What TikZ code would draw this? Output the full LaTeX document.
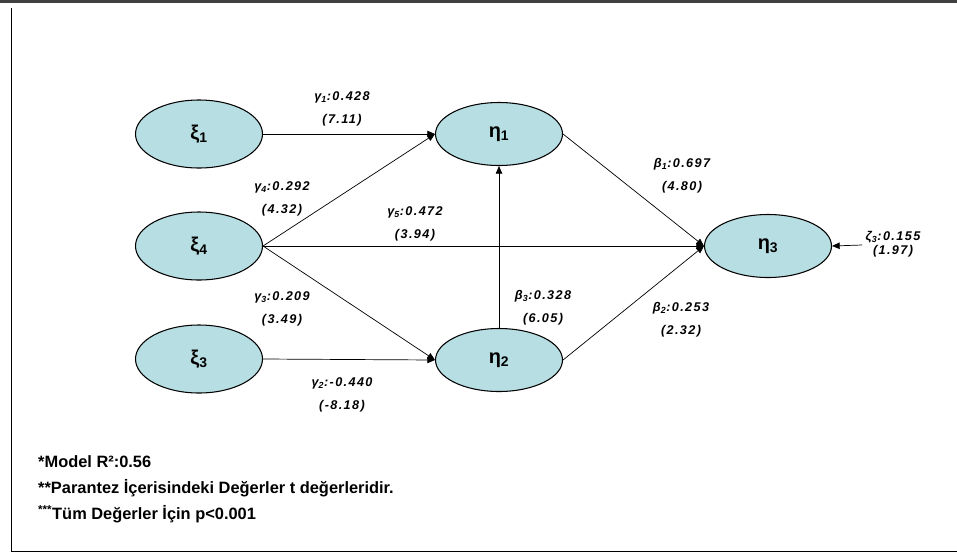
\documentclass[tikz,border=0pt]{standalone}
\usepackage{fontspec}
\setmainfont{Liberation Sans}
\usetikzlibrary{shapes.geometric,arrows.meta}
\definecolor{latentfill}{RGB}{183,222,226}

\begin{document}
\begin{tikzpicture}[x=0.03cm,y=-0.03cm,
    latent/.style={ellipse,draw,line width=0.9pt,fill=latentfill,minimum width=3.81cm,
        minimum height=2.04cm,inner sep=0pt,font=\bfseries\fontsize{17}{19}\selectfont},
    endo/.style={latent,minimum height=1.89cm},
    link/.style={-{Triangle[length=6.5pt,width=5.5pt]},line width=0.6pt},
    coef/.style={align=center,inner sep=0pt,
        font=\bfseries\itshape\fontsize{10.8}{19.5}\selectfont\addfontfeature{LetterSpace=11}},
    note/.style={anchor=west,inner sep=0pt,font=\bfseries\fontsize{14}{15}\selectfont}]
    \useasboundingbox (0,0) rectangle (957,553);
    % frame
    \draw[line width=2.2pt,black!75] (0,1.5) -- (957,1.5);
    \draw[line width=1.5pt] (11.5,8) -- (11.5,552);
    \draw[line width=1.5pt] (11,551.5) -- (957,551.5);

    \node[latent] (xi1) at (199,134) {ξ\textsubscript{1}};
    \node[latent] (xi4) at (199,246) {ξ\textsubscript{4}};
    \node[latent] (xi3) at (199,359) {ξ\textsubscript{3}};
    \node[endo] (eta1) at (499,134) {η\textsubscript{1}};
    \node[endo] (eta2) at (499,360) {η\textsubscript{2}};
    \node[endo] (eta3) at (768,246) {η\textsubscript{3}};
    \coordinate (zeta) at (862,245);

    \draw[link] (xi1.east) -- (eta1.west);
    \draw[link] (xi4.east) -- (eta1.west);
    \draw[link] (xi4.east) -- (eta3.west);
    \draw[link] (xi4.east) -- (eta2.west);
    \draw[link] (xi3.east) -- (eta2.west);
    \draw[link] (eta2.north) -- (eta1.south);
    \draw[link] (eta1.east) -- (eta3.west);
    \draw[link] (eta2.east) -- (eta3.west);
    \draw[link] (zeta) -- (eta3.east);

    % path coefficients (t values)
    \node[coef] (g1) at (342,108.5) {γ\textsubscript{1}:0.428\\(7.11)};
    \node[coef] (g4) at (282,199) {γ\textsubscript{4}:0.292\\(4.32)};
    \node[coef] (g5) at (415,223.5) {γ\textsubscript{5}:0.472\\(3.94)};
    \node[coef] (g3) at (282,308.5) {γ\textsubscript{3}:0.209\\(3.49)};
    \node[coef] (g2) at (342,395) {γ\textsubscript{2}:-0.440\\(-8.18)};
    \node[coef] (b3) at (543,307.5) {β\textsubscript{3}:0.328\\(6.05)};
    \node[coef] (b2) at (681,320) {β\textsubscript{2}:0.253\\(2.32)};
    \node[coef] (b1) at (682,176) {β\textsubscript{1}:0.697\\(4.80)};
    \node[coef] (z3) at (893,244) {ζ\textsubscript{3}:0.155\\[-7.5pt](1.97)};

    \node[note] (n1) at (38,462) {*Model R²:0.56};
    \node[note] (n2) at (38,488) {**Parantez İçerisindeki Değerler t değerleridir.};
    \node[note] (n3) at (38,514) {\textsuperscript{***}Tüm Değerler İçin p<0.001};
\end{tikzpicture}
\end{document}
